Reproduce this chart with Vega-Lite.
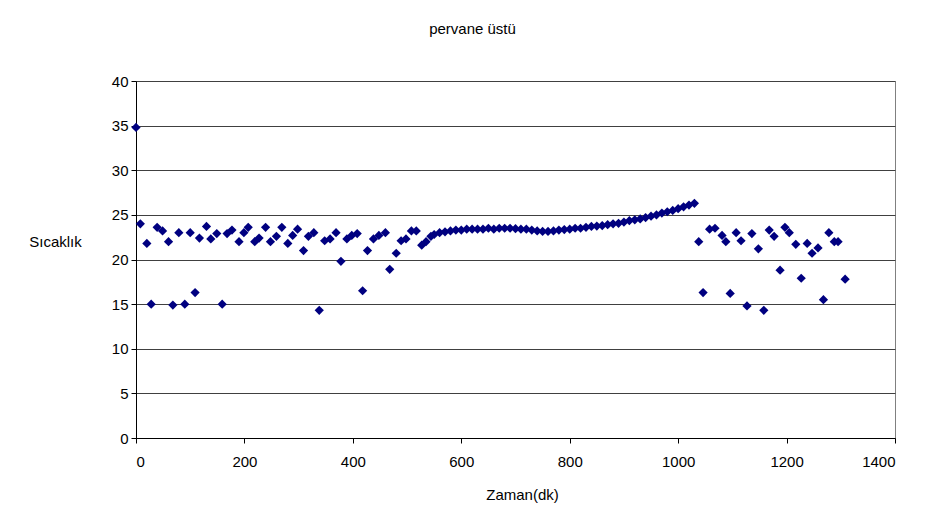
{
  "$schema": "https://vega.github.io/schema/vega-lite/v6.json",
  "width": 759,
  "height": 357,
  "autosize": "none",
  "padding": {"left": 136, "top": 81, "right": 34, "bottom": 84},
  "background": "white",
  "title": {"text": "pervane üstü", "font": "Liberation Sans", "fontSize": 15, "fontWeight": "normal", "color": "black", "anchor": "middle", "dx": -43, "offset": 37},
  "data": {"values": [
    {"zaman": 0, "sicaklik": 34.8}, {"zaman": 8, "sicaklik": 24.0}, {"zaman": 20, "sicaklik": 21.8}, {"zaman": 28, "sicaklik": 15.0},
    {"zaman": 39, "sicaklik": 23.6}, {"zaman": 49, "sicaklik": 23.2}, {"zaman": 60, "sicaklik": 22.0}, {"zaman": 68, "sicaklik": 14.9},
    {"zaman": 79, "sicaklik": 23.0}, {"zaman": 90, "sicaklik": 15.0}, {"zaman": 100, "sicaklik": 23.0}, {"zaman": 109, "sicaklik": 16.3},
    {"zaman": 117, "sicaklik": 22.4}, {"zaman": 130, "sicaklik": 23.7}, {"zaman": 138, "sicaklik": 22.3}, {"zaman": 149, "sicaklik": 22.9},
    {"zaman": 159, "sicaklik": 15.0}, {"zaman": 168, "sicaklik": 22.9}, {"zaman": 177, "sicaklik": 23.3}, {"zaman": 190, "sicaklik": 22.0},
    {"zaman": 199, "sicaklik": 23.0}, {"zaman": 207, "sicaklik": 23.6}, {"zaman": 219, "sicaklik": 22.0}, {"zaman": 227, "sicaklik": 22.4},
    {"zaman": 239, "sicaklik": 23.6}, {"zaman": 248, "sicaklik": 22.0}, {"zaman": 259, "sicaklik": 22.6}, {"zaman": 269, "sicaklik": 23.6},
    {"zaman": 280, "sicaklik": 21.8}, {"zaman": 289, "sicaklik": 22.7}, {"zaman": 298, "sicaklik": 23.4}, {"zaman": 309, "sicaklik": 21.0},
    {"zaman": 318, "sicaklik": 22.6}, {"zaman": 328, "sicaklik": 23.0}, {"zaman": 338, "sicaklik": 14.3}, {"zaman": 348, "sicaklik": 22.1},
    {"zaman": 358, "sicaklik": 22.3}, {"zaman": 369, "sicaklik": 23.0}, {"zaman": 378, "sicaklik": 19.8}, {"zaman": 389, "sicaklik": 22.3},
    {"zaman": 398, "sicaklik": 22.7}, {"zaman": 408, "sicaklik": 22.9}, {"zaman": 418, "sicaklik": 16.5}, {"zaman": 427, "sicaklik": 21.0},
    {"zaman": 438, "sicaklik": 22.3}, {"zaman": 448, "sicaklik": 22.7}, {"zaman": 460, "sicaklik": 23.0}, {"zaman": 468, "sicaklik": 18.9},
    {"zaman": 480, "sicaklik": 20.7}, {"zaman": 489, "sicaklik": 22.1}, {"zaman": 498, "sicaklik": 22.3}, {"zaman": 508, "sicaklik": 23.2},
    {"zaman": 517, "sicaklik": 23.2}, {"zaman": 527, "sicaklik": 21.6}, {"zaman": 535, "sicaklik": 22.0}, {"zaman": 544, "sicaklik": 22.6},
    {"zaman": 550, "sicaklik": 22.8}, {"zaman": 560, "sicaklik": 23.0}, {"zaman": 570, "sicaklik": 23.1}, {"zaman": 580, "sicaklik": 23.2},
    {"zaman": 590, "sicaklik": 23.3}, {"zaman": 600, "sicaklik": 23.3}, {"zaman": 610, "sicaklik": 23.4}, {"zaman": 620, "sicaklik": 23.4},
    {"zaman": 630, "sicaklik": 23.4}, {"zaman": 640, "sicaklik": 23.4}, {"zaman": 650, "sicaklik": 23.5}, {"zaman": 660, "sicaklik": 23.4},
    {"zaman": 670, "sicaklik": 23.5}, {"zaman": 680, "sicaklik": 23.5}, {"zaman": 690, "sicaklik": 23.5}, {"zaman": 700, "sicaklik": 23.45},
    {"zaman": 710, "sicaklik": 23.4}, {"zaman": 720, "sicaklik": 23.4}, {"zaman": 730, "sicaklik": 23.3}, {"zaman": 740, "sicaklik": 23.2},
    {"zaman": 750, "sicaklik": 23.15}, {"zaman": 760, "sicaklik": 23.15}, {"zaman": 770, "sicaklik": 23.2}, {"zaman": 780, "sicaklik": 23.3},
    {"zaman": 790, "sicaklik": 23.35}, {"zaman": 800, "sicaklik": 23.4}, {"zaman": 810, "sicaklik": 23.5}, {"zaman": 820, "sicaklik": 23.5},
    {"zaman": 830, "sicaklik": 23.6}, {"zaman": 840, "sicaklik": 23.7}, {"zaman": 850, "sicaklik": 23.75}, {"zaman": 860, "sicaklik": 23.8},
    {"zaman": 870, "sicaklik": 23.9}, {"zaman": 880, "sicaklik": 24.0}, {"zaman": 890, "sicaklik": 24.05}, {"zaman": 900, "sicaklik": 24.2},
    {"zaman": 910, "sicaklik": 24.35}, {"zaman": 920, "sicaklik": 24.45}, {"zaman": 930, "sicaklik": 24.55}, {"zaman": 940, "sicaklik": 24.7},
    {"zaman": 950, "sicaklik": 24.85}, {"zaman": 960, "sicaklik": 25.0}, {"zaman": 970, "sicaklik": 25.2}, {"zaman": 980, "sicaklik": 25.35},
    {"zaman": 990, "sicaklik": 25.5}, {"zaman": 1000, "sicaklik": 25.7}, {"zaman": 1010, "sicaklik": 25.9}, {"zaman": 1020, "sicaklik": 26.1},
    {"zaman": 1030, "sicaklik": 26.3},
    {"zaman": 1038, "sicaklik": 22.0}, {"zaman": 1046, "sicaklik": 16.3}, {"zaman": 1058, "sicaklik": 23.4}, {"zaman": 1068, "sicaklik": 23.5},
    {"zaman": 1081, "sicaklik": 22.7}, {"zaman": 1088, "sicaklik": 22.0}, {"zaman": 1096, "sicaklik": 16.2}, {"zaman": 1107, "sicaklik": 23.0},
    {"zaman": 1116, "sicaklik": 22.1}, {"zaman": 1127, "sicaklik": 14.8}, {"zaman": 1136, "sicaklik": 22.9}, {"zaman": 1148, "sicaklik": 21.2},
    {"zaman": 1158, "sicaklik": 14.3}, {"zaman": 1168, "sicaklik": 23.3}, {"zaman": 1177, "sicaklik": 22.6}, {"zaman": 1188, "sicaklik": 18.8},
    {"zaman": 1197, "sicaklik": 23.6}, {"zaman": 1205, "sicaklik": 23.0}, {"zaman": 1217, "sicaklik": 21.7}, {"zaman": 1227, "sicaklik": 17.9},
    {"zaman": 1238, "sicaklik": 21.8}, {"zaman": 1247, "sicaklik": 20.7}, {"zaman": 1258, "sicaklik": 21.3}, {"zaman": 1268, "sicaklik": 15.5},
    {"zaman": 1278, "sicaklik": 23.0}, {"zaman": 1288, "sicaklik": 22.0}, {"zaman": 1295, "sicaklik": 22.0}, {"zaman": 1308, "sicaklik": 17.8}
  ]},
  "mark": {"type": "point", "shape": "diamond", "filled": true, "color": "#000080", "size": 85, "opacity": 1},
  "encoding": {
    "x": {
      "field": "zaman", "type": "quantitative",
      "scale": {"domain": [0, 1400], "nice": false},
      "axis": {
        "values": [0, 200, 400, 600, 800, 1000, 1200, 1400],
        "format": "d",
        "grid": false,
        "title": "Zaman(dk)",
        "titleX": 386, "titleY": 56, "titleAlign": "center", "titleBaseline": "middle",
        "labelPadding": 11, "tickSize": 5
      }
    },
    "y": {
      "field": "sicaklik", "type": "quantitative",
      "scale": {"domain": [0, 40], "nice": false},
      "axis": {
        "values": [0, 5, 10, 15, 20, 25, 30, 35, 40],
        "grid": true,
        "title": "Sıcaklık",
        "titleAngle": 0, "titleX": -81, "titleY": 160, "titleAlign": "center", "titleBaseline": "middle",
        "labelPadding": 3, "tickSize": 5
      }
    }
  },
  "config": {
    "view": {"stroke": "#808080", "strokeWidth": 1},
    "axis": {
      "labelFont": "Liberation Sans", "labelFontSize": 15, "labelColor": "black",
      "titleFont": "Liberation Sans", "titleFontSize": 15, "titleFontWeight": "normal", "titleColor": "black",
      "domainColor": "black", "domainWidth": 1, "tickColor": "black", "tickWidth": 1,
      "gridColor": "#404040", "gridWidth": 1, "gridOpacity": 1
    }
  }
}
